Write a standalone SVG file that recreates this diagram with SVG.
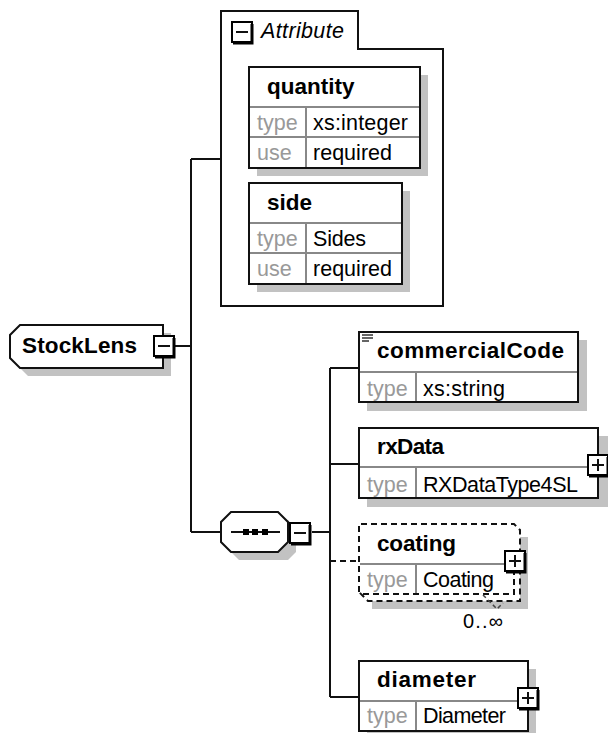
<svg xmlns="http://www.w3.org/2000/svg" width="608" height="733" viewBox="0 0 608 733">
<style>
text{font-family:"Liberation Sans",Arial,sans-serif;font-size:21.5px;fill:#000}
.b{font-weight:bold;font-size:22.5px}
.k{fill:#999}
.s{fill:#c2c2c2;stroke:none}
.o{fill:#fff;stroke:#111;stroke-width:2}
.g{stroke:#888;stroke-width:2;fill:none}
.l{stroke:#111;stroke-width:2;fill:none}
.d{stroke:#111;stroke-width:2;fill:none;stroke-dasharray:6 4}
.x{fill:#fff;stroke:#000;stroke-width:2}
.x2{fill:none;stroke:#000;stroke-width:3}
</style>
<defs>
<g id="minus"><rect class="x" x="1" y="1" width="20" height="20"/><path d="M21 3V22H2" class="x2"/><path d="M5 11H17" class="l"/></g>
<g id="plus"><rect class="x" x="1" y="1" width="20" height="20"/><path d="M21 3V22H2" class="x2"/><path d="M5 11H17M11 5V17" class="l"/></g>
</defs>
<g id="connectors">
<path class="l" d="M175 346H191M191 159V532M191 159H221M191 532H221M312 532H330M330 368V697M330 368H359M330 464H359M330 697H359"/>
<path class="d" d="M330 561H359"/>
</g>
<g id="attribute-group">
<path d="M221 11H358V49H443V306H221Z" fill="#fff" stroke="#111" stroke-width="2"/>
<use href="#minus" x="231" y="21"/>
<text x="261" y="38" font-style="italic" textLength="83">Attribute</text>
</g>
<g id="quantity">
<rect class="s" x="257" y="75" width="171" height="101"/>
<rect class="o" x="249" y="67" width="171" height="101"/>
<path class="g" d="M250 107H419M250 137H419M306 108V167"/>
<text class="b" x="267" y="94">quantity</text>
<text class="k" x="257" y="130">type</text><text x="313" y="130" textLength="95">xs:integer</text>
<text class="k" x="257" y="160">use</text><text x="313" y="160" textLength="79">required</text>
</g>
<g id="side">
<rect class="s" x="257" y="191" width="153" height="101"/>
<rect class="o" x="249" y="183" width="153" height="101"/>
<path class="g" d="M250 223H401M250 253H401M306 224V283"/>
<text class="b" x="267" y="210">side</text>
<text class="k" x="257" y="246">type</text><text x="313" y="246" textLength="53">Sides</text>
<text class="k" x="257" y="276">use</text><text x="313" y="276" textLength="79">required</text>
</g>
<g id="StockLens">
<path class="s" d="M28 333H171V376H28L18 366V343Z"/>
<path class="o" d="M20 325H163V368H20L10 358V335Z"/>
<text class="b" x="22" y="353" textLength="115">StockLens</text>
<use href="#minus" x="153" y="335"/>
</g>
<g id="sequence">
<path class="s" d="M239 520H288L296 528V552L288 560H239L229 550V530Z"/>
<path class="o" d="M231 512H278L288 522V542L278 552H231L221 542V522Z"/>
<path class="l" d="M231 532H280"/>
<rect x="243" y="529" width="6" height="6" fill="#000"/><rect x="252" y="529" width="6" height="6" fill="#000"/><rect x="262" y="529" width="6" height="6" fill="#000"/>
<use href="#minus" x="289" y="522"/>
</g>
<g id="commercialCode">
<rect class="s" x="367" y="340" width="220" height="71"/>
<rect class="o" x="359" y="332" width="219" height="70"/>
<path class="g" d="M360 372H577M416 373V401"/>
<path d="M362 335H373M362 338H373M362 341H369" stroke="#333" stroke-width="1.3" fill="none"/>
<text class="b" x="377" y="358" textLength="187">commercialCode</text>
<text class="k" x="367" y="396">type</text><text x="423" y="396" textLength="82">xs:string</text>
</g>
<g id="rxData">
<rect class="s" x="367" y="436" width="241" height="71"/>
<rect class="o" x="359" y="428" width="239" height="70"/>
<path class="g" d="M360 467H597M416 468V497"/>
<text class="b" x="377" y="454" textLength="67">rxData</text>
<text class="k" x="367" y="492">type</text><text x="423" y="492" textLength="155">RXDataType4SL</text>
<use href="#plus" x="587" y="454"/>
</g>
<g id="coating">
<path class="s" d="M372 601H520V537H528V609H372Z"/>
<path d="M359 524H514L520 530V601H368L359 592Z" fill="#fff" stroke="none"/>
<path class="g" d="M360 564H513M416 565V593"/>
<path class="d" d="M359 592V524H514L520 530V601H368L363 596L359 592M363 594H514V572"/>
<text class="b" x="377" y="551" textLength="79">coating</text>
<text class="k" x="367" y="587">type</text><text x="423" y="587" textLength="71">Coating</text>
<use href="#plus" x="504" y="550"/>
<path d="M483 595L497 609L503 603" fill="none" stroke="#444" stroke-width="1.5" stroke-dasharray="4 3"/>
<text x="463" y="628" style="font-size:20px" textLength="40">0..∞</text>
</g>
<g id="diameter">
<rect class="s" x="367" y="669" width="169" height="64"/>
<rect class="o" x="359" y="661" width="169" height="70"/>
<path class="g" d="M360 701H527M416 702V730"/>
<text class="b" x="377" y="687" textLength="99">diameter</text>
<text class="k" x="367" y="723">type</text><text x="423" y="723" textLength="83">Diameter</text>
<use href="#plus" x="517" y="687"/>
</g>
</svg>
